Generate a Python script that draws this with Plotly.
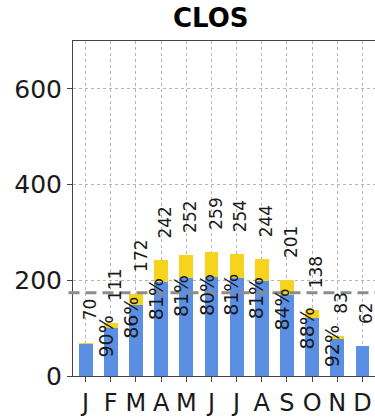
import plotly.graph_objects as go

months = ["J", "F", "M", "A", "M", "J", "J", "A", "S", "O", "N", "D"]
totals = [70, 111, 172, 242, 252, 259, 254, 244, 201, 138, 83, 62]
pct_main = [95, 90, 86, 81, 81, 80, 81, 81, 84, 88, 92, 100]
show_pct = [False, True, True, True, True, True, True, True, True, True, True, False]

x = list(range(len(months)))
blue = [t * p / 100 for t, p in zip(totals, pct_main)]
yellow = [t - b for t, b in zip(totals, blue)]
mean_total = sum(totals) / len(totals)

FONT = "DejaVu Sans"
TXT = "#1a1a1a"

fig = go.Figure()
fig.add_trace(go.Bar(x=x, y=blue, width=0.55, marker=dict(color="#5b8fe3", line=dict(width=0)),
                     hoverinfo="skip"))
fig.add_trace(go.Bar(x=x, y=yellow, width=0.55, marker=dict(color="#f6d31d", line=dict(width=0)),
                     hoverinfo="skip"))

ann = []
for i, (t, b, p, s) in enumerate(zip(totals, blue, pct_main, show_pct)):
    ann.append(dict(x=i + 0.17, y=t, xref="x", yref="y", text=str(t), showarrow=False,
                    textangle=-90, xanchor="center", yanchor="bottom", yshift=21,
                    font=dict(family=FONT, size=17, color=TXT), borderpad=0))
    if s:
        ann.append(dict(x=i - 0.2, y=0.82 * b, xref="x", yref="y", text=f"{p}%", showarrow=False,
                        textangle=-90, xanchor="center", yanchor="middle",
                        font=dict(family=FONT, size=19, color=TXT), borderpad=0))

T, B = 41, 34
ann.append(dict(xref="paper", yref="paper", x=(211 - 73) / (375 - 73),
                y=1 + (T - 18) / (417 - T - B), text="<b>CLOS</b>", showarrow=False,
                font=dict(family=FONT, size=26, color="#000"), xanchor="center", yanchor="middle"))

fig.update_layout(
    barmode="stack",
    width=375, height=417,
    margin=dict(l=73, r=0, t=T, b=B),
    plot_bgcolor="white", paper_bgcolor="white",
    showlegend=False,
    annotations=ann,
    shapes=[dict(type="line", xref="paper", yref="y", x0=-0.015, x1=1.0, y0=mean_total, y1=mean_total,
                 line=dict(color="#8c8c8c", width=3, dash="11px,6px"), layer="above")],
    font=dict(family=FONT, color=TXT),
)
fig.update_xaxes(range=[-0.5, 11.5], tickvals=x, ticktext=months, tickfont=dict(size=24, family=FONT, color=TXT),
                 showgrid=True, gridcolor="#b5b5b5", griddash="3px,3px", gridwidth=1,
                 showline=True, linecolor="#444", linewidth=1, mirror=True,
                 ticks="outside", ticklen=5, tickcolor="#444", zeroline=False)
fig.update_yaxes(range=[0, 700], tickvals=[0, 200, 400, 600], tickfont=dict(size=25, family=FONT, color=TXT),
                 showgrid=True, gridcolor="#b5b5b5", griddash="3px,3px", gridwidth=1,
                 showline=True, linecolor="#444", linewidth=1,
                 ticks="outside", ticklen=5, tickcolor="#444", zeroline=False)

fig.write_html("out.html", config={"displayModeBar": False, "staticPlot": True},
               post_script="document.body.style.margin='0';document.body.style.overflow='hidden';")
